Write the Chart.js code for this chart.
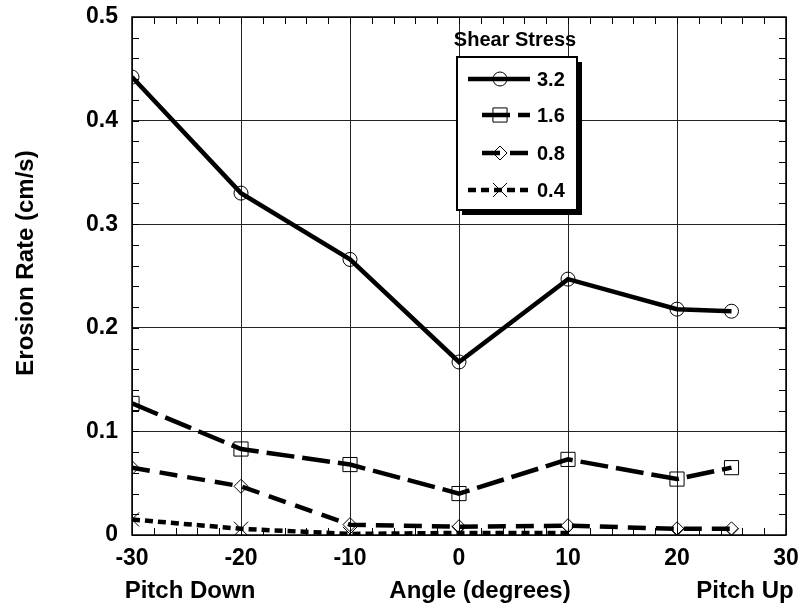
<!DOCTYPE html>
<html>
<head>
<meta charset="utf-8">
<script src="https://cdn.jsdelivr.net/npm/chart.js@4.4.1/dist/chart.umd.min.js"></script>
<style>
  html, body { margin: 0; padding: 0; background: #fff; }
  #wrap { width: 805px; height: 612px; }
</style>
</head>
<body>
<div id="wrap"><canvas id="chart" width="805" height="612"></canvas></div>
<script>
// angle (degrees) of each measurement
const angles = [-30, -20, -10, 0, 10, 20, 25];
const xTicks = [-30, -20, -10, 0, 10, 20, 30];
const yTicks = [0, 0.1, 0.2, 0.3, 0.4, 0.5];

// erosion rate (cm/s) per shear stress
const stressLabels = ["3.2", "1.6", "0.8", "0.4"];
const rate32 = [0.442, 0.330, 0.266, 0.167, 0.247, 0.218, 0.216];
const rate16 = [0.127, 0.083, 0.068, 0.040, 0.073, 0.054, 0.065];
const rate08 = [0.065, 0.047, 0.010, 0.008, 0.009, 0.006, 0.006];
const rate04 = [0.015, 0.006, 0.001, 0.002, 0.002, 0.000, 0.000];

const FONT = "'Liberation Sans', Arial, sans-serif";

function pts(vals) {
  return angles.map((a, i) => ({ x: a, y: vals[i] }));
}

const styles = [
  { dash: [], shape: 'circle', radius: 7 },
  { dash: [28, 8], shape: 'rect', radius: 10 },
  { dash: [18, 10], shape: 'rectRot', radius: 7 },
  { dash: [8, 5], shape: 'crossRot', radius: 10 }
];
const series = [rate32, rate16, rate08, rate04];

const datasets = series.map((vals, i) => ({
  label: stressLabels[i],
  data: pts(vals),
  borderColor: '#000',
  borderWidth: 4.5,
  borderDash: styles[i].dash,
  borderCapStyle: 'butt',
  pointStyle: styles[i].shape,
  pointRadius: styles[i].radius,
  pointHoverRadius: styles[i].radius,
  pointBorderWidth: 1,
  pointBorderColor: '#000',
  pointBackgroundColor: 'rgba(0,0,0,0)',
  tension: 0,
  fill: false,
  segment: i === 3 ? { borderColor: ctx => ctx.p0DataIndex >= 4 ? 'rgba(0,0,0,0)' : undefined } : undefined
}));

function drawMarker(ctx, shape, x, y, r) {
  ctx.save();
  ctx.setLineDash([]);
  ctx.lineWidth = 1;
  ctx.strokeStyle = '#000';
  ctx.beginPath();
  if (shape === 'circle') {
    ctx.arc(x, y, r, 0, Math.PI * 2);
  } else if (shape === 'rect') {
    const s = r * Math.SQRT1_2;
    ctx.rect(x - s, y - s, 2 * s, 2 * s);
  } else if (shape === 'rectRot') {
    ctx.moveTo(x, y - r); ctx.lineTo(x + r, y); ctx.lineTo(x, y + r); ctx.lineTo(x - r, y); ctx.closePath();
  } else {
    const s = r * Math.SQRT1_2;
    ctx.moveTo(x - s, y - s); ctx.lineTo(x + s, y + s);
    ctx.moveTo(x + s, y - s); ctx.lineTo(x - s, y + s);
  }
  ctx.stroke();
  ctx.restore();
}

// fix the plot box: no extra padding from tick labels
function noPad(s) {
  s.paddingTop = 0; s.paddingBottom = 0; s.paddingLeft = 0; s.paddingRight = 0;
}

// minor ticks, frame, axis titles
const decorPlugin = {
  id: 'decor',
  beforeDatasetsDraw(chart) {
    const { ctx, chartArea: a, scales } = chart;
    const xs = scales.x, ys = scales.y;
    ctx.save();
    ctx.strokeStyle = '#000';
    ctx.lineWidth = 1;
    ctx.beginPath();
    for (let v = -30; v <= 30; v += 2) {
      const px = Math.round(xs.getPixelForValue(v)) + 0.5;
      ctx.moveTo(px, a.bottom); ctx.lineTo(px, a.bottom - 7);
      ctx.moveTo(px, a.top); ctx.lineTo(px, a.top + 7);
    }
    for (let k = 0; k <= 25; k++) {
      const py = Math.round(ys.getPixelForValue(k * 0.02)) + 0.5;
      ctx.moveTo(a.left, py); ctx.lineTo(a.left + 7, py);
      ctx.moveTo(a.right, py); ctx.lineTo(a.right - 7, py);
    }
    ctx.stroke();
    ctx.lineWidth = 1.5;
    ctx.strokeRect(a.left, a.top, a.right - a.left, a.bottom - a.top);
    ctx.restore();
  },
  afterDraw(chart) {
    const { ctx } = chart;
    ctx.save();
    ctx.fillStyle = '#000';
    ctx.font = 'bold 24px ' + FONT;
    ctx.textAlign = 'center';
    ctx.textBaseline = 'middle';
    ctx.fillText('Pitch Down', 190, 591);
    ctx.fillText('Angle (degrees)', 480, 591);
    ctx.fillText('Pitch Up', 745, 591);
    ctx.translate(26, 263);
    ctx.rotate(-Math.PI / 2);
    ctx.fillText('Erosion Rate (cm/s)', 0, 0);
    ctx.restore();
  }
};

// boxed legend with shadow
const legendPlugin = {
  id: 'boxLegend',
  afterDatasetsDraw(chart) {
    const { ctx } = chart;
    const bx = 457, by = 57, bw = 120, bh = 153;
    ctx.save();
    ctx.fillStyle = '#000';
    ctx.fillRect(bx + 5, by + 5, bw, bh);
    ctx.fillStyle = '#fff';
    ctx.fillRect(bx, by, bw, bh);
    ctx.strokeStyle = '#000';
    ctx.lineWidth = 2;
    ctx.strokeRect(bx, by, bw, bh);

    ctx.fillStyle = '#000';
    ctx.font = 'bold 20px ' + FONT;
    ctx.textAlign = 'center';
    ctx.textBaseline = 'middle';
    ctx.fillText('Shear Stress', 515, 40);

    const rows = [79, 115, 153, 190];
    chart.data.datasets.forEach((ds, i) => {
      const y = rows[i];
      ctx.save();
      ctx.strokeStyle = '#000';
      ctx.lineWidth = ds.borderWidth;
      ctx.lineCap = 'butt';
      ctx.setLineDash(ds.borderDash);
      ctx.beginPath();
      ctx.moveTo(i === 1 || i === 2 ? 482 : 468, y);
      ctx.lineTo(530, y);
      ctx.stroke();
      ctx.restore();
      drawMarker(ctx, ds.pointStyle, 500, y, ds.pointRadius);
      ctx.fillStyle = '#000';
      ctx.textAlign = 'left';
      ctx.fillText(ds.label, 537, y + 1);
    });
    ctx.restore();
  }
};

new Chart(document.getElementById('chart'), {
  type: 'line',
  data: { datasets: datasets },
  options: {
    responsive: false,
    animation: false,
    events: [],
    layout: { padding: { top: 17, right: 19, left: 0, bottom: 0 } },
    plugins: { legend: { display: false }, tooltip: { enabled: false } },
    scales: {
      x: {
        type: 'linear',
        min: -30, max: 30,
        afterBuildTicks: s => { s.ticks = xTicks.map(v => ({ value: v })); },
        afterFit: s => { s.height = 77; noPad(s); },
        grid: { color: '#222', lineWidth: 1, drawTicks: false },
        border: { display: false },
        ticks: {
          padding: 10,
          color: '#000',
          font: { family: FONT, size: 23, weight: 'bold' }
        }
      },
      y: {
        type: 'linear',
        min: 0, max: 0.5,
        afterBuildTicks: s => { s.ticks = yTicks.map(v => ({ value: v })); },
        afterFit: s => { s.width = 132; noPad(s); },
        grid: { color: '#222', lineWidth: 1, drawTicks: false },
        border: { display: false },
        ticks: {
          padding: 14,
          color: '#000',
          font: { family: FONT, size: 23, weight: 'bold' },
          callback: v => String(+v.toFixed(1))
        }
      }
    }
  },
  plugins: [decorPlugin, legendPlugin]
});
</script>
</body>
</html>
